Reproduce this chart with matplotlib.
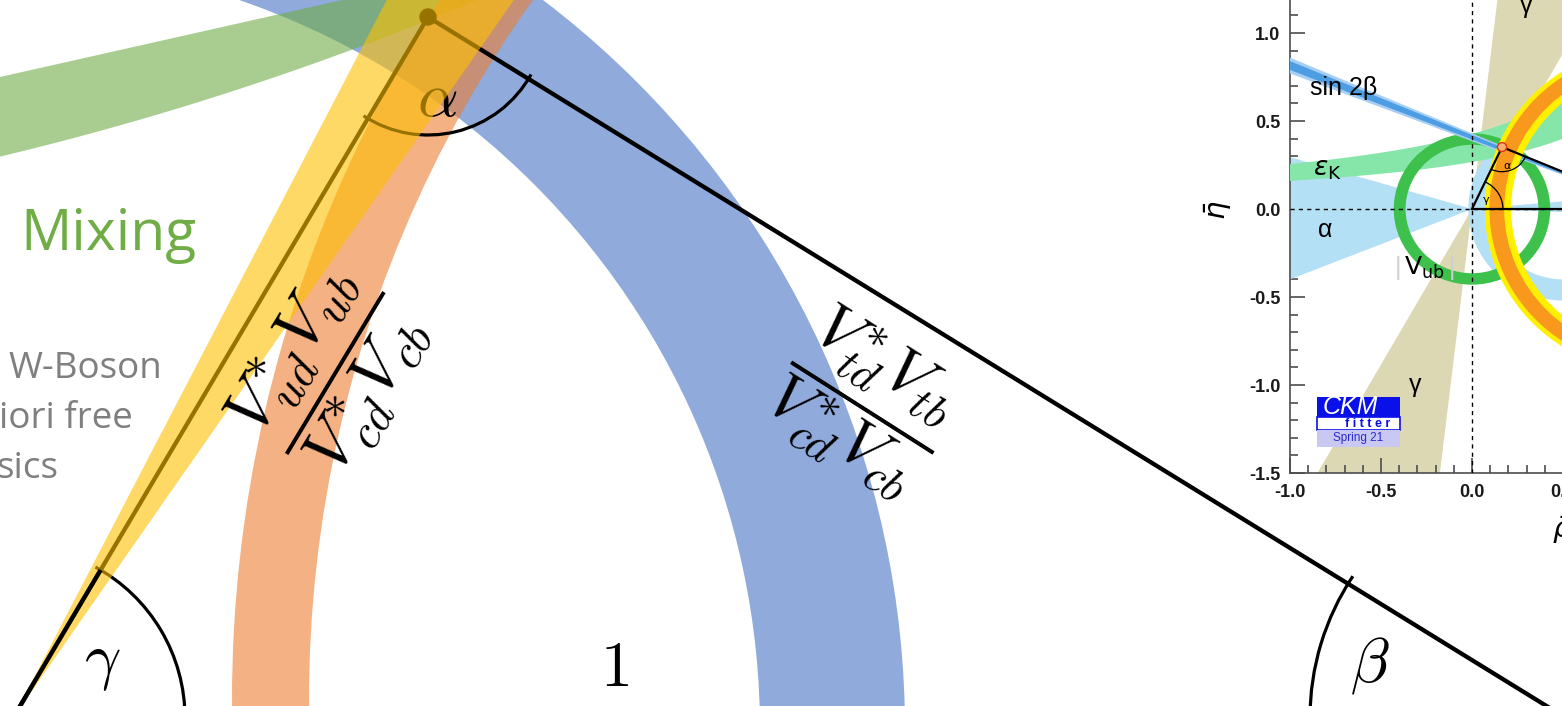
import numpy as np
import matplotlib
matplotlib.use("Agg")
import matplotlib.pyplot as plt
from matplotlib.patches import Wedge, Arc, Circle, Rectangle, Ellipse, Polygon
from matplotlib.ticker import MultipleLocator, FormatStrFormatter

plt.rcParams['mathtext.fontset'] = 'cm'
plt.rcParams['axes.unicode_minus'] = False

W, H = 1562, 706

# ---------------- unitarity triangle sketch (pixel frame) ----------------
gamma_vertex = (13, 718)
beta_vertex = (1566, 718)
apex = (428, 17)

# constraint bands: (centre, inner radius, outer radius)
band_vtd = ((-12, 730), 772, 917)          # blue  |Vtd* Vtb / Vcd* Vcb|
band_vub = ((1515, 700), 1206, 1283)       # orange |Vud* Vub / Vcd* Vcb|
band_gamma = (-62.5, -55.1)                # yellow wedge around the gamma vertex (deg)
mixing_top = (77, -0.225)                  # upper edge of mixing band: intercept, slope
mixing_bottom = ((-708, -2807), 3047)      # lower edge of mixing band: circle

arc_radius = {'alpha': 118, 'beta': 256, 'gamma': 172}

C_BLUE, C_GREEN, C_ORANGE, C_YELLOW = '#4472C4', '#70AD47', '#ED7D31', '#FFC000'
C_GREY = '#7F7F7F'
BAND_ALPHA = 0.6

# ---------------- CKMfitter inset (rho-bar, eta-bar) ----------------
rho_lim = (-1.0, 2.0)
eta_lim = (-1.5, 1.5)
fit_apex = (0.165, 0.352)
sin2beta_core = (0.395, 0.420)     # eta / (1 - rho)
sin2beta_outer = (0.385, 0.430)
epsK_pole = 1.5
epsK_k = (0.40, 0.64)              # eta = k / (pole - rho)
vub_ring = (0.365, 0.43)
dmd_orange = (0.823, 0.904)
dmd_yellow = (0.785, 0.93)
alpha_ring = ((0.5, 0.0), 0.40, 0.52)
alpha_wedge = (163.6, 201.8)
alpha_sliver = (-2.0, 5.0)
gamma_wedge = (60.5, 83.3)

fig = plt.figure(figsize=(W / 100, H / 100), dpi=100)
ax = fig.add_axes([0, 0, 1, 1])
ax.set_xlim(0, W)
ax.set_ylim(H, 0)
ax.axis('off')

# blue band
c, r0, r1 = band_vtd
ax.add_patch(Wedge(c, r1, -95, 5, width=r1 - r0, facecolor=C_BLUE,
                   alpha=BAND_ALPHA, lw=0, zorder=1))

# green mixing band
xs = np.linspace(-20, 620, 500)
top = mixing_top[0] + mixing_top[1] * xs
(gcx, gcy), gr = mixing_bottom
bot = gcy + np.sqrt(gr ** 2 - (xs - gcx) ** 2)
ax.fill_between(xs, top, bot, facecolor=C_GREEN, alpha=BAND_ALPHA, lw=0, zorder=2)

# orange band
c, r0, r1 = band_vub
ax.add_patch(Wedge(c, r1, 170, 275, width=r1 - r0, facecolor=C_ORANGE,
                   alpha=BAND_ALPHA, lw=0, zorder=3))

# triangle sides
LW = 3.1
ax.plot([gamma_vertex[0], apex[0], beta_vertex[0]],
        [gamma_vertex[1], apex[1], beta_vertex[1]],
        color='k', lw=LW, solid_joinstyle='round', zorder=4)
ax.add_patch(Circle(apex, 8, color='k', zorder=4))

ang_g = np.degrees(np.arctan2(apex[1] - gamma_vertex[1], apex[0] - gamma_vertex[0]))
ang_b = np.degrees(np.arctan2(apex[1] - beta_vertex[1], apex[0] - beta_vertex[0])) % 360
ang_ag = np.degrees(np.arctan2(gamma_vertex[1] - apex[1], gamma_vertex[0] - apex[0]))
ang_ab = np.degrees(np.arctan2(beta_vertex[1] - apex[1], beta_vertex[0] - apex[0]))

ALW = 2.3
r = arc_radius['gamma']
ax.add_patch(Arc(gamma_vertex, 2 * r, 2 * r, theta1=ang_g - 2, theta2=0,
                 color='k', lw=ALW, zorder=4))
# the short piece of the left side inside the gamma arc stays black
gx = gamma_vertex[0] + r * np.cos(np.radians(ang_g))
gy = gamma_vertex[1] + r * np.sin(np.radians(ang_g))
ax.plot([gamma_vertex[0], gx], [gamma_vertex[1], gy], color='k', lw=LW,
        solid_capstyle='butt', zorder=6)

r = arc_radius['beta']
ax.add_patch(Arc(beta_vertex, 2 * r, 2 * r, theta1=180, theta2=ang_b + 2,
                 color='k', lw=ALW, zorder=4))
r = arc_radius['alpha']
ax.add_patch(Arc(apex, 2 * r, 2 * r, theta1=ang_ab - 2.5, theta2=ang_ag + 2.5,
                 color='k', lw=ALW, zorder=4))
ax.text(437, 98, r'$\alpha$', fontsize=46, ha='center', va='center', zorder=4)

# yellow gamma wedge on top
ax.add_patch(Wedge(gamma_vertex, 1000, band_gamma[0], band_gamma[1],
                   facecolor=C_YELLOW, alpha=BAND_ALPHA, lw=0, zorder=5))

# angle and side labels
ax.text(102, 662, r'$\gamma$', fontsize=46, ha='center', va='center', zorder=6)
ax.text(1370, 665, r'$\beta$', fontsize=46, ha='center', va='center', zorder=6)
ax.text(614, 668, r'$1$', fontsize=46, ha='center', va='center', zorder=6)

ax.text(334, 372, r'$\dfrac{V_{ud}^{*}V_{ub}}{V_{cd}^{*}V_{cb}}$', fontsize=49,
        rotation=59, rotation_mode='anchor', ha='center', va='center', zorder=6)
ax.text(863, 405, r'$\dfrac{V_{td}^{*}V_{tb}}{V_{cd}^{*}V_{cb}}$', fontsize=47,
        rotation=-32.5, rotation_mode='anchor', ha='center', va='center', zorder=6)

# side texts
ax.text(20, 236, 'Mixing', fontsize=41, color=C_GREEN, family='Open Sans',
        ha='left', va='center', zorder=6)
for s, x, y in [('W-Boson', 8, 369), ('iori free', -1, 419), ('sics', -4, 469)]:
    ax.text(x, y, s, fontsize=26.5, color=C_GREY, family='Open Sans',
            ha='left', va='center', zorder=6)

# ---------------- inset ----------------
ax2 = fig.add_axes([1290 / W, (H - 473) / H, 546 / W, 528 / H])
ax2.set_zorder(2)
ax2.set_facecolor('white')
ax2.set_xlim(*rho_lim)
ax2.set_ylim(*eta_lim)

# gamma wedge
for off in (0, 180):
    ax2.add_patch(Wedge((0, 0), 4, gamma_wedge[0] + off, gamma_wedge[1] + off,
                        facecolor='#dcd8b4', lw=0, zorder=1))
# alpha
ac, ar0, ar1 = alpha_ring
ax2.add_patch(Wedge(ac, ar1, 0, 360, width=ar1 - ar0, facecolor='#b3e0f5', lw=0, zorder=2))
ax2.add_patch(Wedge((0, 0), 4, alpha_wedge[0], alpha_wedge[1], facecolor='#b3e0f5', lw=0, zorder=2))
ax2.add_patch(Wedge((0, 0), 4, alpha_sliver[0], alpha_sliver[1], facecolor='#b3e0f5', lw=0, zorder=2))
# epsilon_K
rr = np.linspace(-1.2, 1.1, 300)
ax2.fill_between(rr, epsK_k[0] / (epsK_pole - rr), epsK_k[1] / (epsK_pole - rr),
                 facecolor='#86e6aa', lw=0, zorder=3)
# |Vub| ring
ax2.add_patch(Wedge((0, 0), vub_ring[1], 0, 360, width=vub_ring[1] - vub_ring[0],
                    facecolor='#3dc04c', lw=0, zorder=4))
# sin 2beta
for (s_lo, s_hi), col in [(sin2beta_outer, '#a8cff3'), (sin2beta_core, '#4d9de3')]:
    ax2.add_patch(Polygon([(1, 0), (-1.5, s_lo * 2.5), (-1.5, s_hi * 2.5)],
                          closed=True, facecolor=col, lw=0, zorder=5))
# Delta m_d ring
ax2.add_patch(Wedge((1, 0), dmd_yellow[1], 0, 360, width=dmd_yellow[1] - dmd_yellow[0],
                    facecolor='#fff000', lw=0, zorder=6))
ax2.add_patch(Wedge((1, 0), dmd_orange[1], 0, 360, width=dmd_orange[1] - dmd_orange[0],
                    facecolor='#f8981d', lw=0, zorder=6))

# dashed axes
ax2.axhline(0, color='k', lw=1.0, ls=(0, (3, 3)), zorder=7)
ax2.axvline(0, color='k', lw=1.0, ls=(0, (3, 3)), zorder=7)

# fitted triangle
ax2.plot([0, fit_apex[0], 1, 0], [0, fit_apex[1], 0, 0], color='k', lw=1.6, zorder=8)
ta = np.degrees(np.arctan2(fit_apex[1], fit_apex[0]))
tb = np.degrees(np.arctan2(-fit_apex[1], 1 - fit_apex[0]))
ax2.add_patch(Arc(fit_apex, 0.28, 0.28, theta1=ta + 180, theta2=tb, color='k', lw=0.9, zorder=8))
ax2.add_patch(Arc((0, 0), 0.34, 0.34, theta1=0, theta2=ta, color='k', lw=0.9, zorder=8))
ax2.add_patch(Ellipse(fit_apex, 0.05, 0.05, facecolor='#f6b26b', edgecolor='#e0301e',
                      lw=1.0, zorder=9))
ax2.text(fit_apex[0] + 0.03, fit_apex[1] - 0.11, 'α', fontsize=8, ha='center', va='center', zorder=9)
ax2.text(0.08, 0.05, 'γ', fontsize=8, ha='center', va='center', zorder=9)

for sp in ax2.spines.values():
    sp.set_color('#4d4d4d')
    sp.set_linewidth(1.2)
ax2.xaxis.set_major_locator(MultipleLocator(0.5))
ax2.xaxis.set_minor_locator(MultipleLocator(0.1))
ax2.yaxis.set_major_locator(MultipleLocator(0.5))
ax2.yaxis.set_minor_locator(MultipleLocator(0.1))
ax2.xaxis.set_major_formatter(FormatStrFormatter('%.1f'))
ax2.yaxis.set_major_formatter(FormatStrFormatter('%.1f'))
ax2.tick_params(which='both', direction='in', color='#4d4d4d', width=1.2,
                top=False, right=False)
ax2.tick_params(which='major', length=11)
ax2.tick_params(which='minor', length=6)
ax2.tick_params(axis='y', pad=7)
ax2.tick_params(axis='x', pad=8)
for lab in ax2.get_xticklabels() + ax2.get_yticklabels():
    lab.set_family('Liberation Sans')
    lab.set_fontweight('bold')
    lab.set_fontsize(13)
    lab.set_color('#1a1a1a')

# inset labels (pixel frame)
T = dict(transform=ax.transData, zorder=10, family='Liberation Sans')
ax2.text(1310, 88, 'sin 2β', fontsize=18, ha='left', va='center', **T)
ax2.text(1313, 170, r'$\varepsilon_\mathrm{K}$', fontsize=19, ha='left', va='center',
         math_fontfamily='dejavusans', **T)
ax2.text(1325, 230, 'α', fontsize=18, ha='center', va='center', **T)
ax2.text(1404, 268, r'$\mathrm{V_{ub}}$', fontsize=18, ha='left', va='center',
         math_fontfamily='dejavusans', **T)
ax2.text(1398, 268, '|', fontsize=18, color='#cfcfcf', ha='center', va='center', **T)
ax2.text(1452, 268, '|', fontsize=18, color='#cfcfcf', ha='center', va='center', **T)
ax2.text(1415, 385, 'γ', fontsize=18, ha='center', va='center', **T)
ax2.text(1526, 6, 'γ', fontsize=18, ha='center', va='center', **T)

# CKMfitter logo
ax2.add_patch(Rectangle((1317, 397), 83, 20, facecolor='#0a10e8', lw=0,
                        transform=ax.transData, zorder=10))
ax2.add_patch(Rectangle((1317, 417), 83, 13, facecolor='white', edgecolor='#0a10e8',
                        lw=1.2, transform=ax.transData, zorder=10))
ax2.add_patch(Rectangle((1317, 430), 83, 17, facecolor='#c8c8f2', lw=0,
                        transform=ax.transData, zorder=10))
ax2.text(1350, 407, 'CKM', fontsize=18, color='white', style='italic',
         ha='center', va='center', **T)
ax2.text(1368, 424, 'f i t t e r', fontsize=9, color='#0a10e8', fontweight='bold',
         ha='center', va='center', **T)
ax2.text(1358, 438, 'Spring 21', fontsize=8.5, color='#2a2ad0',
         ha='center', va='center', **T)

# inset axis titles
ax.text(1218, 210, r'$\bar{\eta}$', fontsize=21, rotation=90, ha='center', va='center',
        math_fontfamily='dejavusans', zorder=6)
ax.text(1552, 530, r'$\bar{\rho}$', fontsize=21, ha='left', va='center',
        math_fontfamily='dejavusans', zorder=6)

fig.savefig('out.png', dpi=100)
